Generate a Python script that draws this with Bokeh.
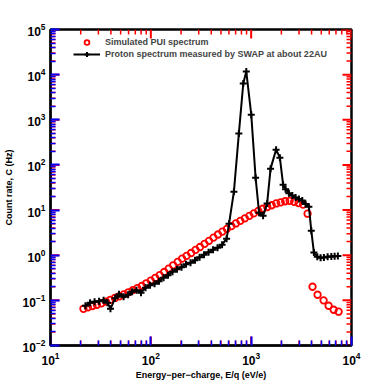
from bokeh.plotting import figure
from bokeh.models import (Range1d, FixedTicker, Legend, LegendItem,
                          LogTickFormatter)
from bokeh.embed import file_html
from bokeh.resources import INLINE

# Simulated PUI spectrum (energy eV/e, count rate Hz)
pui_energy = [21.3, 23.6, 26.2, 29.0, 32.2, 35.7, 39.5, 43.8, 48.6, 53.8,
              59.7, 66.1, 73.3, 81.3, 90.0, 99.8, 110.6, 122.5, 135.9, 150.6,
              166.9, 185, 205, 227, 252, 279, 309, 343, 380, 421,
              467, 517, 573, 635, 704, 780, 865, 959, 1062, 1178,
              1305, 1446, 1603, 1777, 1969, 2183, 2420, 2682, 2972, 3294,
              3650, 4090, 4590, 5270, 5910, 6640, 7440]
pui_rate = [0.065, 0.070, 0.075, 0.080, 0.086, 0.094, 0.103, 0.113, 0.123, 0.136,
            0.151, 0.168, 0.186, 0.208, 0.239, 0.274, 0.314, 0.361, 0.425, 0.505,
            0.598, 0.711, 0.838, 0.968, 1.12, 1.31, 1.52, 1.78, 2.08, 2.45,
            2.88, 3.34, 3.84, 4.40, 5.05, 5.78, 6.56, 7.45, 8.43, 9.57,
            10.7, 11.7, 12.8, 14.0, 14.8, 15.7, 16.0, 15.2, 14.3, 13.2,
            8.3, 0.20, 0.133, 0.10, 0.076, 0.062, 0.056]

# Proton spectrum measured by SWAP
swap_energy = [22.3, 24.8, 27.5, 30.5, 33.8, 37.0, 39.6, 44.0, 48.2, 53.5,
               59.3, 65.0, 72.0, 79.8, 88.5, 98.2, 108.9, 120.7, 133.9, 148.4,
               164.5, 182.4, 202.3, 224.2, 248.6, 275.7, 306.1, 339, 376, 417,
               462, 513, 569, 602, 673, 754, 834, 894, 1002, 1107,
               1199, 1315, 1442, 1561, 1772, 1933, 2081, 2203, 2377, 2570,
               2773, 2992, 3231, 3486, 3761, 3974, 4218, 4561, 4920, 5309,
               5780, 6295, 6792, 7317]
swap_rate = [0.076, 0.089, 0.093, 0.096, 0.100, 0.089, 0.065, 0.111, 0.137, 0.120,
             0.133, 0.155, 0.168, 0.148, 0.190, 0.216, 0.233, 0.265, 0.317, 0.360,
             0.431, 0.490, 0.542, 0.631, 0.682, 0.774, 0.903, 1.03, 1.17, 1.32,
             1.47, 1.71, 2.32, 4.99, 25.6, 494, 6350, 11700, 1300, 52.3,
             8.75, 7.52, 13.9, 82.8, 218, 145, 36.6, 29.1, 23.7, 20.9,
             19.1, 17.6, 16.2, 13.6, 11.9, 3.49, 1.15, 0.93, 0.88, 0.89,
             0.93, 0.94, 0.95, 0.96]

labels = ["Simulated PUI spectrum",
          "Proton spectrum measured by SWAP at about 22AU"]
x_title = "Energy\u2212per\u2212charge, E/q (eV/e)"
y_title = "Count rate, C (Hz)"
x_decades = [1, 2, 3, 4]
y_decades = [-2, -1, 0, 1, 2, 3, 4, 5]

FONT = "Liberation Sans"
FW, FH = 301, 316
X0, X1 = 10.0 ** x_decades[0], 10.0 ** x_decades[-1]
Y0, Y1 = 10.0 ** y_decades[0], 10.0 ** y_decades[-1]
PX_PER_DEC_X = FW / (x_decades[-1] - x_decades[0])
PX_PER_DEC_Y = FH / (y_decades[-1] - y_decades[0])
MAJ_LEN, MIN_LEN = 9, 5
TICK_COLOR = "red"


def majors_of(decades):
    return [10.0 ** k for k in decades]


def minors_of(decades):
    return [m * 10.0 ** k for k in decades[:-1] for m in range(2, 10)]


p = figure(x_axis_type="log", y_axis_type="log",
           x_range=Range1d(X0, X1), y_range=Range1d(Y0, Y1),
           frame_width=FW, frame_height=FH,
           min_border_left=50, min_border_top=29, min_border_right=20,
           min_border_bottom=36,
           output_backend="svg", toolbar_location=None)
p.xgrid.visible = False
p.ygrid.visible = False
p.outline_line_color = "black"
p.outline_line_width = 2.5
p.border_fill_color = "white"

xb = p.below[0]
yl = p.left[0]
xb.ticker = FixedTicker(ticks=majors_of(x_decades), minor_ticks=minors_of(x_decades))
yl.ticker = FixedTicker(ticks=majors_of(y_decades), minor_ticks=minors_of(y_decades))
xb.formatter = LogTickFormatter()
yl.formatter = LogTickFormatter()

for ax in [xb, yl]:
    ax.axis_line_width = 2
    ax.axis_line_color = "black"
    ax.major_tick_in = MAJ_LEN
    ax.major_tick_out = 0
    ax.minor_tick_in = MIN_LEN
    ax.minor_tick_out = 0
    ax.major_tick_line_width = 2
    ax.minor_tick_line_width = 1.5
    ax.major_tick_line_color = "blue"
    ax.minor_tick_line_color = "blue"
    ax.major_label_text_font = FONT
    ax.major_label_text_font_style = "bold"
    ax.major_label_text_font_size = "12px"
    ax.major_label_text_color = "black"
    ax.axis_label_text_font = FONT
    ax.axis_label_text_font_style = "bold"
    ax.axis_label_text_font_size = "9px"
    ax.axis_label_text_color = "black"

xb.axis_label = x_title
yl.axis_label = y_title
xb.major_label_standoff = 6
yl.major_label_standoff = 5
xb.axis_label_standoff = 2
yl.axis_label_standoff = 6

# inward tick marks on all four sides
xmaj, xmin = majors_of(x_decades), minors_of(x_decades)
ymaj, ymin = majors_of(y_decades), minors_of(y_decades)
for xs, length, lw in [(xmaj, MAJ_LEN, 2), (xmin, MIN_LEN, 1.5)]:
    fy = 10 ** (length / PX_PER_DEC_Y)
    n = len(xs)
    p.segment(x0=xs, y0=[Y0] * n, x1=xs, y1=[Y0 * fy] * n,
              line_color=TICK_COLOR, line_width=lw)
    p.segment(x0=xs, y0=[Y1] * n, x1=xs, y1=[Y1 / fy] * n,
              line_color=TICK_COLOR, line_width=lw)
for ys, length, lw in [(ymaj, MAJ_LEN, 2), (ymin, MIN_LEN, 1.5)]:
    fx = 10 ** (length / PX_PER_DEC_X)
    n = len(ys)
    p.segment(x0=[X0] * n, y0=ys, x1=[X0 * fx] * n, y1=ys,
              line_color=TICK_COLOR, line_width=lw)
    p.segment(x0=[X1] * n, y0=ys, x1=[X1 / fx] * n, y1=ys,
              line_color=TICK_COLOR, line_width=lw)

r_pui = p.scatter(pui_energy, pui_rate, marker="circle", size=6.5,
                  line_color="#ff0000", line_width=1.8, fill_color=None)
r_line = p.line(swap_energy, swap_rate, line_color="black", line_width=2)
r_cross = p.scatter(swap_energy, swap_rate, marker="cross", size=7,
                    line_color="black", line_width=2)

legend = Legend(items=[LegendItem(label=labels[0], renderers=[r_pui]),
                       LegendItem(label=labels[1], renderers=[r_line, r_cross])],
                location=(23, 285), padding=0, margin=0, spacing=0,
                glyph_width=27, glyph_height=12, label_height=12,
                label_standoff=5, label_text_font=FONT,
                label_text_font_style="bold", label_text_font_size="9px",
                border_line_color=None, background_fill_alpha=0)
p.add_layout(legend)

open("out.html", "w").write(file_html(p, INLINE))
